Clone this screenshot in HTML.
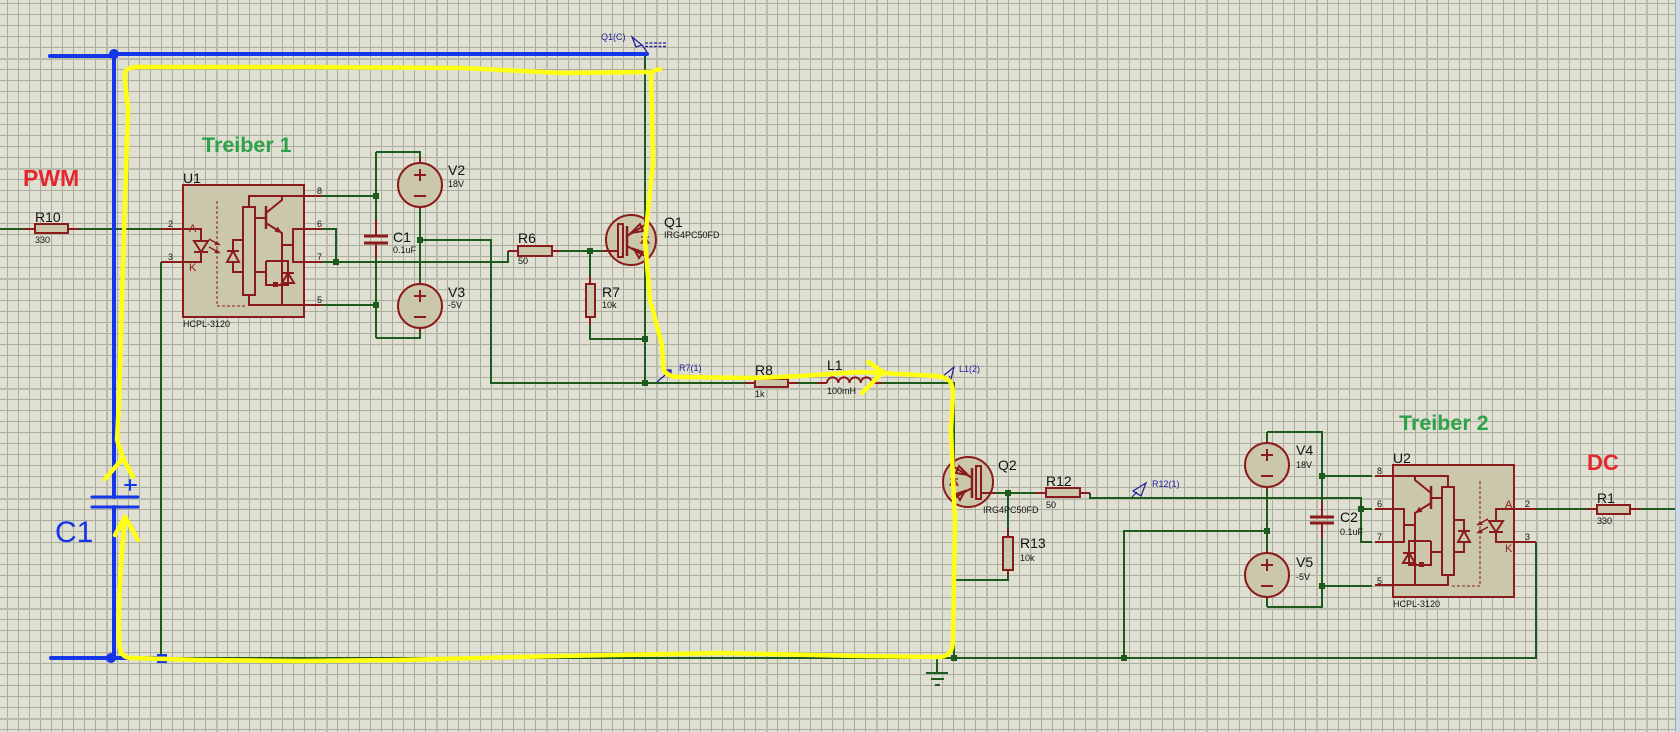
<!DOCTYPE html>
<html><head><meta charset="utf-8"><style>
html,body{margin:0;padding:0;background:#dfdfd2;overflow:hidden}
svg{display:block}
text{font-family:"Liberation Sans",Arial,sans-serif;}
</style></head><body>
<svg width="1680" height="732" viewBox="0 0 1680 732" xmlns="http://www.w3.org/2000/svg">
<defs>
<pattern id="mn" x="7" y="3" width="11" height="11" patternUnits="userSpaceOnUse"><path d="M0.5 0V11M0 0.5H11" stroke="#aaac9e" stroke-width="1" fill="none"/></pattern>
<pattern id="mj" x="106" y="58" width="110" height="110" patternUnits="userSpaceOnUse"><path d="M1 0V110M0 1H110" stroke="#b9bbad" stroke-width="2" fill="none"/></pattern>
<g id="u1">
  <rect x="183" y="185" width="121" height="132" fill="#cbc7ac" stroke="#8b1a1a" stroke-width="2"/>
  <g stroke="#8b1a1a" stroke-width="2" fill="none">
    <path d="M161 229H183M161 262H183M304 196H322M304 229H322M304 262H322M304 305H322"/>
    <path d="M183 229H201V262H183"/>
    <path d="M194 241H208L201 252Z" fill="#cbc7ac"/>
    <path d="M194 252H208"/>
    <path d="M209 239L220 245M209 247L220 253" stroke-width="1.5"/>
    <path d="M243 240H233V272H243"/>
    <path d="M227 262H239L233 251Z" fill="#cbc7ac"/>
    <path d="M227 251H239"/>
    <rect x="243" y="207" width="12" height="88" fill="#cbc7ac"/>
    <path d="M249 207V196H304"/>
    <path d="M255 218H266"/>
    <path d="M266 206V229" stroke-width="2.5"/>
    <path d="M266 213L282 200V196"/>
    <path d="M266 223L282 233V305"/>
    <path d="M282 245H293M304 229H293V262H304"/>
    <path d="M255 272H266M266 261V285H288V261H266"/>
    <path d="M282 283H294L288 273Z"/>
    <path d="M282 273H294"/>
    <path d="M249 295V305H304"/>
    <path d="M217 201V306H245" stroke-width="1" stroke-dasharray="3 2"/>
  </g>
  <path d="M220 245L214 245L217 241ZM220 253L214 253L217 249Z" fill="#8b1a1a"/>
  <path d="M282 233L274.5 231.8L277.7 226.8Z" fill="#8b1a1a"/>
  <rect x="273" y="282" width="5" height="5" fill="#8b1a1a"/>
</g>
<g id="q1">
  <circle cx="631" cy="240" r="25" fill="#cbc7ac" stroke="#8b1a1a" stroke-width="2"/>
  <g stroke="#8b1a1a" stroke-width="2" fill="none">
    <path d="M603 251H618"/>
    <rect x="618" y="224" width="5" height="33" fill="#cbc7ac"/>
    <path d="M627 226V256" stroke-width="2.5"/>
    <path d="M627 236L645 225V216M627 246L645 256V264"/>
    <path d="M631 233L640 224L643 231Z"/>
    <path d="M634 249L643 252L639 258Z"/>
    <path d="M641 243H649L645 237ZM641 237H649" stroke-width="1.2"/>
  </g>
</g>
</defs>
<rect width="1680" height="732" fill="#dfdfd2"/>
<rect width="1675" height="732" fill="url(#mn)"/>
<rect width="1675" height="732" fill="url(#mj)"/>
<rect x="1675" width="5" height="732" fill="#c9d7e6"/>
<line x1="1675.5" y1="0" x2="1675.5" y2="732" stroke="#97a9bd"/>

<!-- green wires -->
<g stroke="#1d5a1d" stroke-width="2" fill="none">
<path d="M0 229H23M79 229H161"/>
<path d="M161 262V658H1536V542"/>
<path d="M322 196H376M322 229H336V262M322 262H508V251M322 305H376"/>
<path d="M376 152V220M376 258V338"/>
<path d="M376 152H420V160M376 338H420V331M420 209V282"/>
<path d="M420 240H491V383H645"/>
<path d="M645 53V216M645 264V383"/>
<path d="M560 251H603M590 251V276M590 325V339H645"/>
<path d="M645 383H745M798 383H817M882 383H954V458M954 506V658"/>
<path d="M996 493H1036M1008 493V529M1008 575V580H954"/>
<path d="M1090 493V498H1361V542H1372M1361 509H1372"/>
<path d="M1267 432H1322V502M1322 538V607H1267M1267 432V441M1267 489V551M1267 599V607"/>
<path d="M1267 531H1124V658"/>
<path d="M1322 476H1372M1322 586H1372"/>
<path d="M1536 509H1587M1640 509H1675"/>
<path d="M937 658V673M926 673H948M931 679H944M935 685H940"/>
</g>
<!-- junctions -->
<g fill="#1d5a1d">
<rect x="373" y="193" width="6" height="6"/><rect x="333" y="259" width="6" height="6"/>
<rect x="373" y="302" width="6" height="6"/><rect x="417" y="237" width="6" height="6"/>
<rect x="587" y="248" width="6" height="6"/><rect x="642" y="336" width="6" height="6"/>
<rect x="642" y="380" width="6" height="6"/><rect x="951" y="655" width="6" height="6"/>
<rect x="1005" y="490" width="6" height="6"/><rect x="1264" y="528" width="6" height="6"/>
<rect x="1319" y="473" width="6" height="6"/><rect x="1319" y="583" width="6" height="6"/>
<rect x="1358" y="506" width="6" height="6"/><rect x="1121" y="655" width="6" height="6"/>
<rect x="952" y="578" width="4" height="4"/>
</g>

<!-- red components -->
<g stroke="#8b1a1a" stroke-width="2" fill="#cbc7ac">
<path d="M23 229H35M68 229H79" fill="none"/><rect x="35" y="224" width="33" height="9"/>
<path d="M376 220V236M376 243V258" fill="none"/>
<path d="M364 236H388M364 243H388" stroke-width="3" fill="none"/>
<path d="M420 158V163M420 207V209M420 282V284M420 329V331" fill="none"/>
<circle cx="420" cy="185" r="22"/><circle cx="420" cy="306" r="22"/>
<path d="M414 175H426M420 169V181M414 196H426M414 296H426M420 290V302M414 317H426" fill="none"/>
<path d="M508 251H518M552 251H560" fill="none"/><rect x="518" y="246" width="34" height="10"/>
<path d="M590 276V284M590 317V325" fill="none"/><rect x="586" y="284" width="9" height="33"/>
<path d="M745 383H755M788 383H798" fill="none"/><rect x="755" y="379" width="33" height="8"/>
<path d="M817 383H827M872 383H882" fill="none"/>
<path d="M827 383a5.6 5.6 0 0 1 11.25 0a5.6 5.6 0 0 1 11.25 0a5.6 5.6 0 0 1 11.25 0a5.6 5.6 0 0 1 11.25 0" fill="none"/>
<path d="M1036 493H1046M1080 493H1090" fill="none"/><rect x="1046" y="488" width="34" height="9"/>
<path d="M1008 529V537M1008 570V575" fill="none"/><rect x="1003" y="537" width="10" height="33"/>
<path d="M1267 441V443M1267 487V489M1267 551V553M1267 597V599" fill="none"/>
<circle cx="1267" cy="465" r="22"/><circle cx="1267" cy="575" r="22"/>
<path d="M1261 455H1273M1267 449V461M1261 476H1273M1261 565H1273M1267 559V571M1261 586H1273" fill="none"/>
<path d="M1322 502V517M1322 523V538" fill="none"/>
<path d="M1310 517H1334M1310 523H1334" stroke-width="3" fill="none"/>
<path d="M1587 509H1597M1630 509H1640" fill="none"/><rect x="1597" y="505" width="33" height="9"/>
</g>
<use href="#u1"/>
<use href="#u1" transform="translate(1697,280) scale(-1,1)"/>
<use href="#q1"/>
<use href="#q1" transform="translate(1599,242) scale(-1,1)"/>

<!-- probes -->
<g stroke="#1c1c9c" stroke-width="1.2" fill="none">
<path d="M632 37L642 45L636 47Z"/><path d="M642 45L647 52"/>
<path d="M645 43H666M645 46.5H666" stroke-dasharray="3 1.5"/>
<path d="M657 382L671 370M666 370H671V375"/>
<path d="M946 381L950 376M942 377L954 367L951 379Z"/>
<path d="M1132 497L1137 492M1133 491L1146 483L1141 496Z"/>
</g>

<!-- blue hand drawing -->
<g stroke="#1535e8" stroke-width="4" fill="none" stroke-linecap="round">
<path d="M50 56H114"/><path d="M114 54H647"/>
<path d="M114 54V497M114 507V658"/>
<path d="M92 497H138M92 507H138" stroke-width="3"/>
<path d="M51 658H163"/>
<path d="M125 485H136M130 480V490" stroke-width="2"/>
<rect x="158" y="655" width="8" height="7" stroke-width="2"/>
</g>
<circle cx="114" cy="54" r="5" fill="#1535e8"/>
<circle cx="111" cy="658" r="5" fill="#1535e8"/>
<text x="55" y="542" font-size="30" fill="#1535e8">C1</text>

<!-- yellow hand drawing -->
<g stroke="#ffff10" stroke-width="4.5" fill="none" stroke-linecap="round" stroke-linejoin="round">
<path d="M123 458L117 440L119 400L122 300L125 200L128 110L125 80C124 70 126 67 140 67L300 67L464 68L560 73L651 72L660 69"/>
<path d="M651 72L653 163L645 240L650 300L662 345L663 365C663 372 667 377 680 377L755 378L800 376L860 372L883 373L935 376C948 377 953 380 953 395L951 430L953 480L955 520L953 640C953 648 951 656 940 657L860 656L720 653L560 656L400 660L300 661L200 660L135 658C125 659 119 655 119 640C118 600 121 560 125 517"/>
<path d="M868 362L883 372L862 393"/>
<path d="M105 479L123 458L133 477"/>
<path d="M115 535L125 517L138 540"/>
</g>

<!-- big labels -->
<text x="23" y="186" font-size="23" font-weight="bold" fill="#e5262e">PWM</text>
<text x="202" y="152" font-size="21.5" font-weight="bold" fill="#2ea24a">Treiber 1</text>
<text x="1399" y="430" font-size="21.5" font-weight="bold" fill="#2ea24a">Treiber 2</text>
<text x="1587" y="470" font-size="22" font-weight="bold" fill="#e5262e">DC</text>

<!-- component labels -->
<g fill="#111" font-size="14">
<text x="35" y="222">R10</text>
<text x="183" y="183">U1</text>
<text x="393" y="242">C1</text>
<text x="448" y="175">V2</text>
<text x="448" y="297">V3</text>
<text x="518" y="243">R6</text>
<text x="602" y="297">R7</text>
<text x="664" y="227">Q1</text>
<text x="755" y="375">R8</text>
<text x="827" y="370">L1</text>
<text x="998" y="470">Q2</text>
<text x="1046" y="486">R12</text>
<text x="1020" y="548">R13</text>
<text x="1296" y="455">V4</text>
<text x="1296" y="567">V5</text>
<text x="1340" y="522">C2</text>
<text x="1393" y="463">U2</text>
<text x="1597" y="503">R1</text>
</g>
<g fill="#111" font-size="9">
<text x="35" y="243">330</text>
<text x="183" y="327">HCPL-3120</text>
<text x="393" y="253">0.1uF</text>
<text x="448" y="187">18V</text>
<text x="448" y="308">-5V</text>
<text x="518" y="264">50</text>
<text x="602" y="308">10k</text>
<text x="664" y="238">IRG4PC50FD</text>
<text x="755" y="397">1k</text>
<text x="827" y="394">100mH</text>
<text x="983" y="513">IRG4PC50FD</text>
<text x="1046" y="508">50</text>
<text x="1020" y="561">10k</text>
<text x="1296" y="468">18V</text>
<text x="1296" y="580">-5V</text>
<text x="1340" y="535">0.1uF</text>
<text x="1393" y="607">HCPL-3120</text>
<text x="1597" y="524">330</text>
<text x="168" y="227">2</text><text x="168" y="260">3</text>
<text x="317" y="194">8</text><text x="317" y="227">6</text><text x="317" y="260">7</text><text x="317" y="303">5</text>
<text x="1377" y="474">8</text><text x="1377" y="507">6</text><text x="1377" y="540">7</text><text x="1377" y="584">5</text>
<text x="1525" y="507">2</text><text x="1525" y="540">3</text>
</g>
<g fill="#8b1a1a" font-size="11">
<text x="189" y="232">A</text><text x="189" y="271">K</text>
<text x="1505" y="508">A</text><text x="1505" y="552">K</text>
</g>
<g fill="#1c1c9c" font-size="9">
<text x="601" y="40">Q1(C)</text>
<text x="679" y="371">R7(1)</text>
<text x="959" y="372">L1(2)</text>
<text x="1152" y="487">R12(1)</text>
</g>
</svg>
</body></html>
